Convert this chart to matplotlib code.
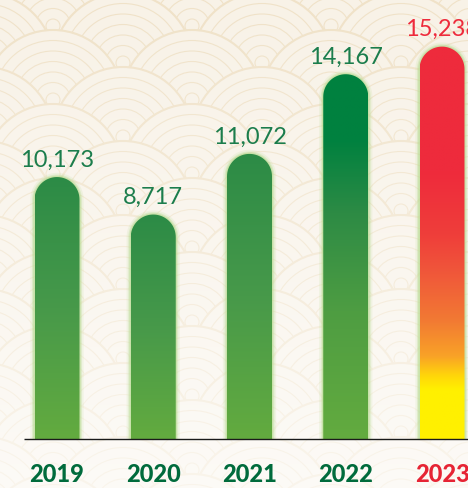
import numpy as np
import matplotlib
matplotlib.use("Agg")
import matplotlib.pyplot as plt
from matplotlib.patches import Circle, PathPatch
from matplotlib.path import Path
from matplotlib.colors import LinearSegmentedColormap

# ---- data ----
years = ["2019", "2020", "2021", "2022", "2023"]
values = [10173, 8717, 11072, 14167, 15238]
value_labels = ["10,173", "8,717", "11,072", "14,167", "15,238"]

W, H = 468, 488
fig = plt.figure(figsize=(W / 100, H / 100), dpi=100)

# ---- background seigaiha pattern ----
bg = fig.add_axes([0, 0, 1, 1], zorder=0)
bg.set_xlim(0, W)
bg.set_ylim(H, 0)
bg.axis("off")
bg_col = "#F8F2E7"
line_col = "#F0E2C8"
R = 70.0
HS = 37.0
DX = 139.0
for k in range(-4, 19):
    cy = 63 + HS * k
    x0 = 123 if k % 2 == 0 else 53
    xs = np.arange(x0 - 3 * DX, W + 2 * DX, DX)
    for cx in xs:
        if cx < -R - 5 or cx > W + R + 5:
            continue
        bg.add_patch(Circle((cx, cy), R, facecolor=bg_col, edgecolor=line_col, lw=1.5))
        for i in range(1, 7):
            bg.add_patch(Circle((cx, cy), R - i * 10.5, facecolor="none",
                                edgecolor=line_col, lw=0.8))
# fade to white towards the bottom
fade = np.linspace(0.0, 0.65, 200).reshape(-1, 1)
rgba = np.ones((200, 1, 4))
rgba[..., 3] = fade
bg.imshow(rgba, extent=(0, W, H, 0), aspect="auto", zorder=5, interpolation="bilinear")
bg.set_xlim(0, W)
bg.set_ylim(H, 0)

# ---- main axes ----
base_px = 439
ymax = 16000
ax_h_px = 412
ax = fig.add_axes([0, (H - base_px) / H, 1, ax_h_px / H], zorder=1)
ax.patch.set_alpha(0)
px_per_x = 96.25
x_first = 57
ax.set_xlim(-x_first / px_per_x, (W - x_first) / px_per_x)
ax.set_ylim(0, ymax)
ax.axis("off")
px_per_y = ax_h_px / ymax

bar_w = 45 / px_per_x
ry = (22.5) / px_per_y

green_cmap = LinearSegmentedColormap.from_list(
    "g", [(0, "#63AB3F"), (0.5, "#47994A"), (1.0, "#2C8B46")])
green_dark_cmap = LinearSegmentedColormap.from_list(
    "gd", [(0, "#63AB3F"), (0.35, "#4E9D42"), (0.62, "#2D8B45"), (0.82, "#00813F"), (1.0, "#00813F")])
hot_cmap = LinearSegmentedColormap.from_list(
    "h", [(0, "#FFF000"), (0.125, "#FFF000"), (0.16, "#FFD60A"), (0.21, "#F9A227"),
          (0.30, "#F27A33"), (0.42, "#F0583A"), (0.52, "#EF3E3A"), (0.68, "#EE2B3C"), (1.0, "#EE2B3C")])
cmaps = [green_cmap, green_cmap, green_cmap, green_dark_cmap, hot_cmap]


def bar_path(xc, top):
    l, r = xc - bar_w / 2, xc + bar_w / 2
    th = np.linspace(0, np.pi, 40)
    arc = np.column_stack([xc + (bar_w / 2) * np.cos(th), top - ry + ry * np.sin(th)])
    verts = np.vstack([[l, 0], [r, 0], [r, top - ry], arc, [l, top - ry], [l, 0]])
    codes = [Path.MOVETO] + [Path.LINETO] * (len(verts) - 2) + [Path.CLOSEPOLY]
    return Path(verts, codes)


grad = np.linspace(0, 1, 256).reshape(-1, 1)
for i, v in enumerate(values):
    p = bar_path(i, v)
    # glow
    for lw, a in [(6, 0.15), (3.5, 0.3), (1.8, 0.5)]:
        ax.add_patch(PathPatch(p, facecolor="none", edgecolor="#B5DA8E", lw=lw, alpha=a, zorder=2))
    clip = PathPatch(p, facecolor="none", edgecolor="none", zorder=3)
    ax.add_patch(clip)
    im = ax.imshow(grad, extent=(i - bar_w / 2, i + bar_w / 2, 0, v), origin="lower",
                   aspect="auto", cmap=cmaps[i], zorder=3, interpolation="bilinear")
    im.set_clip_path(clip)
    col = "#EE2B3C" if i == 4 else "#1B7D4C"
    ax.annotate(value_labels[i], (i, v), xytext=(0, 7.5), textcoords="offset points",
                ha="center", va="baseline", fontsize=17, color=col,
                fontfamily="Lato", fontweight="normal", annotation_clip=False, zorder=6)

ax.set_xlim(-x_first / px_per_x, (W - x_first) / px_per_x)
ax.set_ylim(0, ymax)

# baseline
ax.plot([(24 - x_first) / px_per_x, (W - x_first) / px_per_x], [0, 0],
        color="#1a1a1a", lw=1.0, zorder=5, clip_on=False, solid_capstyle="butt")

# year labels
for i, yr in enumerate(years):
    col = "#E62434" if i == 4 else "#006B3C"
    ax.text(i, -(474 - base_px) / px_per_y, yr, ha="center", va="center",
            fontsize=17, fontweight="black", fontfamily="Lato", color=col, clip_on=False)

fig.savefig("out.png", dpi=100)
